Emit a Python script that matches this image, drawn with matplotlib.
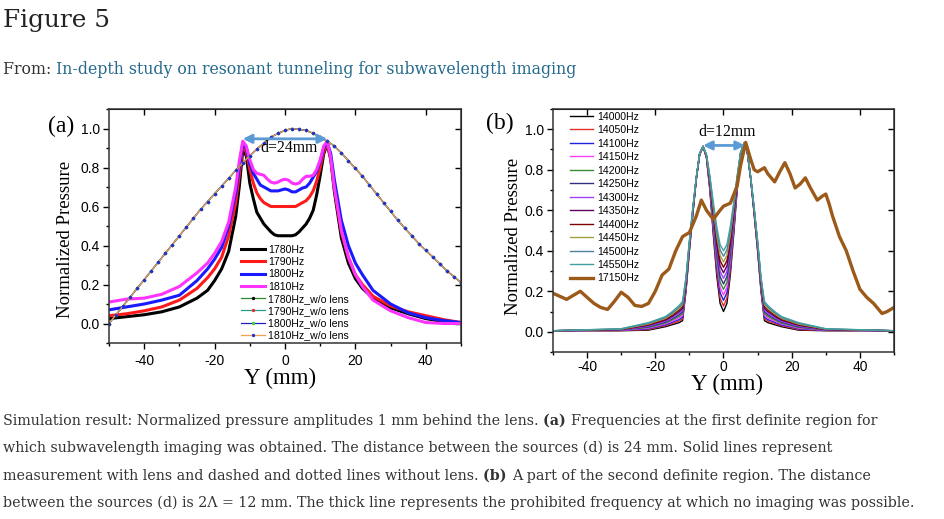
import matplotlib
matplotlib.use("Agg")
import matplotlib.pyplot as plt
from matplotlib.ticker import MultipleLocator, FormatStrFormatter

plt.rcParams["axes.unicode_minus"] = False

# ---- panel (a): 1780-1810 Hz, d = 24 mm ----
ya = [-50, -45, -40, -35, -30, -25, -22, -20, -18, -16, -14, -13, -12, -11, -10,
      -9, -8, -7, -6, -5, -4, -3, -2, -1, 0, 1, 2, 3, 4, 5, 6, 7, 8, 9, 10, 11,
      12, 13, 14, 16, 18, 20, 22, 25, 30, 35, 40, 45, 50]
p1780 = [.025, .035, .045, .06, .085, .13, .17, .22, .28, .37, .55, .70, .89, .86, .72,
         .64, .57, .54, .51, .49, .47, .455, .45, .45, .45, .45, .45, .455, .47, .49, .51, .54, .58, .66, .76, .87,
         .92, .84, .68, .44, .31, .23, .18, .13, .08, .05, .025, .01, .0]
p1790 = [.04, .05, .065, .085, .12, .18, .235, .28, .34, .45, .62, .76, .91, .88, .79,
         .72, .67, .64, .62, .61, .60, .60, .60, .60, .60, .60, .60, .60, .61, .62, .63, .65, .68, .73, .80, .88,
         .925, .85, .70, .47, .34, .25, .20, .14, .09, .06, .04, .02, .005]
p1800 = [.07, .085, .10, .12, .145, .22, .28, .33, .39, .50, .67, .80, .925, .90, .82,
         .77, .74, .71, .70, .69, .68, .68, .68, .685, .69, .685, .675, .675, .685, .695, .70, .72, .75, .78, .83, .90,
         .93, .87, .74, .53, .40, .31, .25, .17, .10, .055, .03, .015, .005]
p1810 = [.11, .125, .13, .15, .19, .26, .31, .36, .42, .52, .70, .83, .935, .91, .84,
         .79, .77, .765, .76, .74, .725, .72, .725, .735, .74, .735, .72, .715, .72, .74, .755, .755, .76, .79, .84, .91,
         .935, .85, .70, .48, .34, .25, .19, .12, .065, .03, .005, .0, .0]

# without lens (the four frequencies overlap)
ya_wo = list(range(-50, 51, 2))
p_wo = [.0, .045, .09, .135, .18, .225, .27, .315, .36, .405, .45, .495, .54, .585,
        .625, .665, .705, .745, .785, .825, .86, .895, .925, .955, .975, .99, 1.0,
        .995, .99, .975, .955, .935, .91, .875, .835, .795, .755, .71, .665, .62,
        .575, .53, .49, .45, .41, .375, .34, .305, .27, .24, .21]

lens_labels = ["1780Hz", "1790Hz", "1800Hz", "1810Hz"]
lens_colors = ["#000000", "#ff1a1a", "#1a1aff", "#ff33ff"]
wo_labels = ["1780Hz_w/o lens", "1790Hz_w/o lens", "1800Hz_w/o lens", "1810Hz_w/o lens"]
wo_line_colors = ["#2e8b2e", "#2a9a8a", "#2020c0", "#f0a050"]
wo_marker_colors = ["#000000", "#e03030", "#30d030", "#2030d0"]

# ---- panel (b): 14000-14550 Hz and 17150 Hz, d = 12 mm ----
yb = [-50, -30, -22, -17, -15, -14, -13, -12, -11, -10, -9, -8, -7, -6, -5, -4, -3, -2, -1,
      0, 1, 2, 3, 4, 5, 6, 7, 8, 9, 10, 11, 12, 13, 14, 15, 17, 22, 30, 50]
pb = [
    [.005, .005, .008, .025, .035, .040, .045, .055, .200, .400, .580, .750, .875, .915, .860, .700, .480, .280, .140,
     .100, .140, .280, .480, .700, .870, .930, .885, .750, .580, .400, .200, .055, .045, .040, .035, .025, .008, .005, .005],
    [.005, .006, .011, .030, .041, .047, .053, .064, .206, .405, .583, .751, .875, .915, .861, .706, .495, .302, .166,
     .127, .166, .302, .495, .706, .871, .930, .885, .751, .583, .405, .206, .064, .053, .047, .041, .030, .011, .006, .005],
    [.005, .007, .015, .034, .047, .054, .060, .072, .213, .409, .585, .752, .876, .915, .863, .713, .509, .324, .193,
     .155, .193, .324, .509, .713, .873, .930, .886, .752, .585, .409, .213, .072, .060, .054, .047, .034, .015, .007, .005],
    [.005, .008, .018, .039, .053, .060, .068, .081, .219, .414, .588, .753, .876, .915, .864, .719, .524, .345, .219,
     .182, .219, .345, .524, .719, .874, .930, .886, .753, .588, .414, .219, .081, .068, .060, .053, .039, .018, .008, .005],
    [.005, .009, .021, .043, .059, .067, .076, .090, .225, .418, .591, .754, .877, .915, .865, .725, .538, .367, .245,
     .209, .245, .367, .538, .725, .875, .930, .887, .754, .591, .418, .225, .090, .076, .067, .059, .043, .021, .009, .005],
    [.005, .010, .025, .048, .065, .074, .084, .098, .232, .423, .594, .755, .877, .915, .867, .732, .553, .389, .272,
     .236, .272, .389, .553, .732, .877, .930, .887, .755, .594, .423, .232, .098, .084, .074, .065, .048, .025, .010, .005],
    [.005, .010, .028, .052, .070, .081, .091, .107, .238, .427, .596, .755, .878, .915, .868, .738, .567, .411, .298,
     .264, .298, .411, .567, .738, .878, .930, .888, .755, .596, .427, .238, .107, .091, .081, .070, .052, .028, .010, .005],
    [.005, .011, .032, .057, .076, .088, .099, .115, .245, .432, .599, .756, .878, .915, .870, .745, .582, .433, .325,
     .291, .325, .433, .582, .745, .880, .930, .888, .756, .599, .432, .245, .115, .099, .088, .076, .057, .032, .011, .005],
    [.005, .012, .035, .061, .082, .095, .107, .124, .251, .436, .602, .757, .879, .915, .871, .751, .596, .455, .351,
     .318, .351, .455, .596, .751, .881, .930, .889, .757, .602, .436, .251, .124, .107, .095, .082, .061, .035, .012, .005],
    [.005, .013, .038, .066, .088, .101, .115, .133, .257, .441, .605, .758, .879, .915, .872, .757, .611, .476, .377,
     .345, .377, .476, .611, .757, .882, .930, .889, .758, .605, .441, .257, .133, .115, .101, .088, .066, .038, .013, .005],
    [.005, .014, .042, .070, .094, .108, .122, .141, .264, .445, .607, .759, .880, .915, .874, .764, .625, .498, .404,
     .373, .404, .498, .625, .764, .884, .930, .890, .759, .607, .445, .264, .141, .122, .108, .094, .070, .042, .014, .005],
    [.005, .015, .045, .075, .100, .115, .130, .150, .270, .450, .610, .760, .880, .915, .875, .770, .640, .520, .430,
     .400, .430, .520, .640, .770, .885, .930, .890, .760, .610, .450, .270, .150, .130, .115, .100, .075, .045, .015, .005],
]
freq_labels = ["14000Hz", "14050Hz", "14100Hz", "14150Hz", "14200Hz", "14250Hz",
               "14300Hz", "14350Hz", "14400Hz", "14450Hz", "14500Hz", "14550Hz"]
freq_colors = ["#000000", "#e03030", "#2020e0", "#ff40ff", "#3a8a3a", "#303080",
               "#a040ff", "#600060", "#800000", "#a0a040", "#5080a0", "#40a0a0"]

y17150 = [-50, -48, -46, -44, -42, -40, -38, -36, -34, -32, -30, -28, -26, -24, -22, -20,
          -18, -16, -14, -12, -10, -8, -6.5, -5, -3, -1, 0, 2, 4, 5, 6.5, 8, 9, 10, 12,
          13, 15, 16.5, 18, 19.5, 21, 22.5, 24, 25.5, 27.5, 29, 30, 31, 32, 34, 36, 38,
          40, 42, 44, 46.5, 48, 50]
p17150 = [.19, .175, .16, .18, .20, .17, .14, .12, .11, .15, .195, .17, .13, .125, .14, .20,
          .28, .31, .40, .47, .49, .57, .65, .60, .555, .60, .62, .635, .72, .82, .935, .85, .80, .79, .81,
          .78, .74, .79, .835, .78, .71, .73, .76, .71, .65, .67, .68, .63, .57, .47, .40, .30,
          .21, .17, .14, .09, .10, .12]

W, H = 945, 519
fig = plt.figure(figsize=(W / 100, H / 100), dpi=100)
fig.patch.set_facecolor("white")
renderer = fig.canvas.get_renderer()


def text_width(s, size, family, weight):
    t = fig.text(0, 0, s, fontsize=size, family=family, weight=weight)
    w = t.get_window_extent(renderer).width
    t.remove()
    return w


def put_runs(x0, y0, runs, size, family):
    x = x0
    for s, weight, color in runs:
        fig.text(x / W, 1 - y0 / H, s, fontsize=size, family=family, weight=weight,
                 color=color, ha="left", va="baseline")
        x += text_width(s + "|", size, family, weight) - text_width("|", size, family, weight)


# page text
fig.text(3 / W, 1 - 27.5 / H, "Figure 5", fontsize=17.8, family="DejaVu Serif",
         color="#222222", va="baseline")
put_runs(3, 74, [("From: ", "normal", "#333333"),
                 ("In-depth study on resonant tunneling for subwavelength imaging", "normal", "#23698c")],
         11.3, "DejaVu Serif")

cap = "#333333"
caption = [
    [("Simulation result: Normalized pressure amplitudes 1 mm behind the lens. ", "normal", cap),
     ("(a) ", "bold", cap), ("Frequencies at the first definite region for", "normal", cap)],
    [("which subwavelength imaging was obtained. The distance between the sources (d) is 24 mm. Solid lines represent",
      "normal", cap)],
    [("measurement with lens and dashed and dotted lines without lens. ", "normal", cap),
     ("(b) ", "bold", cap), ("A part of the second definite region. The distance", "normal", cap)],
    [("between the sources (d) is 2\u039b = 12 mm. The thick line represents the prohibited frequency at which no imaging was possible.",
      "normal", cap)],
]
for i, runs in enumerate(caption):
    put_runs(3, 425 + 27.3 * i, runs, 10.25, "DejaVu Serif")


def style_axes(ax, xpad):
    ax.set_xlim(-50, 50)
    ax.set_ylim(-0.1, 1.1)
    ax.xaxis.set_major_locator(MultipleLocator(20))
    ax.xaxis.set_minor_locator(MultipleLocator(10))
    ax.yaxis.set_major_locator(MultipleLocator(0.2))
    ax.yaxis.set_minor_locator(MultipleLocator(0.1))
    ax.yaxis.set_major_formatter(FormatStrFormatter("%.1f"))
    ax.set_yticks([0, 0.2, 0.4, 0.6, 0.8, 1.0])
    ax.tick_params(which="major", direction="out", length=4.5, width=1, labelsize=10,
                   top=False, right=False)
    ax.tick_params(which="minor", direction="out", length=2.5, width=1, top=False, right=False)
    ax.tick_params(axis="x", pad=xpad)
    ax.tick_params(axis="y", pad=2)
    for lab in ax.get_xticklabels() + ax.get_yticklabels():
        lab.set_family("Liberation Sans")
    for sp in ax.spines.values():
        sp.set_linewidth(1.1)
        sp.set_color("#333333")
    top = ax.secondary_xaxis("top")
    top.set_xticks([-40, -20, 0, 20, 40])
    top.tick_params(direction="in", length=4, width=1, labeltop=False)
    right = ax.secondary_yaxis("right")
    right.set_yticks([0, 0.2, 0.4, 0.6, 0.8, 1.0])
    right.tick_params(direction="in", length=4, width=1, labelright=False)
    ax.set_xlabel("Y (mm)", family="Liberation Serif", fontsize=16.5)
    ax.set_ylabel("Normalized Pressure", family="Liberation Serif", fontsize=13.5)
    ax.xaxis.label.set_va("center")
    ax.yaxis.label.set_va("center")


# ---- panel (a) ----
ax1 = fig.add_axes([109 / W, 1 - 343 / H, (461 - 109) / W, (343 - 109) / H])
for vals, lab, col in zip([p1780, p1790, p1800, p1810], lens_labels, lens_colors):
    ax1.plot(ya, vals, color=col, lw=2.2, label=lab)
for lab, lc, mc in zip(wo_labels, wo_line_colors, wo_marker_colors):
    ax1.plot(ya_wo, p_wo, color=lc, lw=0.9, marker="o", ms=2.4, mfc=mc, mec=mc,
             mew=0, label=lab)
style_axes(ax1, 3.5)
ax1.xaxis.set_label_coords(0.486, -0.15)
ax1.yaxis.set_label_coords(-0.125, 0.444)
ax1.annotate("", xy=(-12, 0.947), xytext=(12, 0.947),
             arrowprops=dict(arrowstyle="<|-|>", color="#5b9bd5", lw=2,
                             mutation_scale=13, shrinkA=0, shrinkB=0))
ax1.text(1, 0.90, "d=24mm", family="Liberation Serif", fontsize=11.3,
         ha="center", va="center")
ax1.legend(loc="upper left", bbox_to_anchor=(0.375, 0.419), frameon=False,
           prop={"family": "Liberation Sans", "size": 7.6}, handlelength=2.3,
           handletextpad=0.3, labelspacing=0.21, borderpad=0, borderaxespad=0)
fig.text(61 / W, 1 - 126 / H, "(a)", family="Liberation Serif", fontsize=17,
         ha="center", va="center")

# ---- panel (b) ----
ax2 = fig.add_axes([553 / W, 1 - 352 / H, (894 - 553) / W, (352 - 109) / H])
for vals, lab, col in zip(pb, freq_labels, freq_colors):
    ax2.plot(yb, vals, color=col, lw=1.0, label=lab)
ax2.plot(y17150, p17150, color="#9c5a1a", lw=2.4, label="17150Hz")
style_axes(ax2, 1.5)
ax2.xaxis.set_label_coords(0.51, -0.135)
ax2.yaxis.set_label_coords(-0.117, 0.477)
ax2.annotate("", xy=(-6, 0.92), xytext=(6.3, 0.92),
             arrowprops=dict(arrowstyle="<|-|>", color="#5b9bd5", lw=2,
                             mutation_scale=13, shrinkA=0, shrinkB=0))
ax2.text(0.9, 0.985, "d=12mm", family="Liberation Serif", fontsize=11.3,
         ha="center", va="center")
ax2.legend(loc="upper left", bbox_to_anchor=(0.05, 0.989), frameon=False,
           prop={"family": "Liberation Sans", "size": 7.6}, handlelength=2.2,
           handletextpad=0.4, labelspacing=0.33, borderpad=0, borderaxespad=0)
fig.text(500 / W, 1 - 123 / H, "(b)", family="Liberation Serif", fontsize=17,
         ha="center", va="center")

fig.savefig("out.png", dpi=100, facecolor="white")
